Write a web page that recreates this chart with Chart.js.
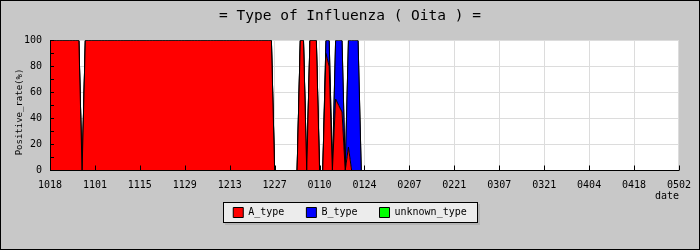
<!DOCTYPE html>
<html>
<head>
<meta charset="utf-8">
<script src="https://cdn.jsdelivr.net/npm/chart.js@4.4.1/dist/chart.umd.min.js"></script>
<style>
    html, body { margin: 0; padding: 0; background: #c8c8c8; }
</style>
</head>
<body>
<canvas id="chart" width="700" height="250"></canvas>
<script>
/* Type of Influenza (Oita): daily positive rate, stacked area */
const MONO = "'DejaVu Sans Mono', 'Liberation Mono', monospace";
const INK = '#000000';
const GRID = '#dcdcdc';
const PAGE_BG = '#c8c8c8';

const DAY_STEP = 14;
const LAST_DAY = 196;
const tickLabels = ['1018', '1101', '1115', '1129', '1213', '1227', '0110', '0124',
    '0207', '0221', '0307', '0321', '0404', '0418', '0502'];

// one value per day from 1018, one row per two weeks
const aType = [
    100, 100, 100, 100, 100, 100, 100, 100, 100, 100, 0, 100, 100, 100,
    100, 100, 100, 100, 100, 100, 100, 100, 100, 100, 100, 100, 100, 100,
    100, 100, 100, 100, 100, 100, 100, 100, 100, 100, 100, 100, 100, 100,
    100, 100, 100, 100, 100, 100, 100, 100, 100, 100, 100, 100, 100, 100,
    100, 100, 100, 100, 100, 100, 100, 100, 100, 100, 100, 100, 100, 100,
    0, 0, 0, 0, 0, 0, 0, 0, 100, 100, 0, 100, 100, 100,
    0, 0, 90, 80, 0, 55, 50, 45, 0, 18, 0, 0, 0, 0,
];
const bType = [
    0, 0, 0, 0, 0, 0, 0, 0, 0, 0, 0, 0, 0, 0,
    0, 0, 0, 0, 0, 0, 0, 0, 0, 0, 0, 0, 0, 0,
    0, 0, 0, 0, 0, 0, 0, 0, 0, 0, 0, 0, 0, 0,
    0, 0, 0, 0, 0, 0, 0, 0, 0, 0, 0, 0, 0, 0,
    0, 0, 0, 0, 0, 0, 0, 0, 0, 0, 0, 0, 0, 0,
    0, 0, 0, 0, 0, 0, 0, 0, 0, 0, 0, 0, 0, 0,
    0, 0, 10, 20, 0, 45, 50, 55, 0, 82, 100, 100, 100, 0,
];
const unknownType = [
    0, 0, 0, 0, 0, 0, 0, 0, 0, 0, 0, 0, 0, 0,
    0, 0, 0, 0, 0, 0, 0, 0, 0, 0, 0, 0, 0, 0,
    0, 0, 0, 0, 0, 0, 0, 0, 0, 0, 0, 0, 0, 0,
    0, 0, 0, 0, 0, 0, 0, 0, 0, 0, 0, 0, 0, 0,
    0, 0, 0, 0, 0, 0, 0, 0, 0, 0, 0, 0, 0, 0,
    0, 0, 0, 0, 0, 0, 0, 0, 0, 0, 0, 0, 0, 0,
    0, 0, 0, 0, 0, 0, 0, 0, 0, 0, 0, 0, 0, 0,
];

function toPoints(values) {
    return values.map((v, i) => ({ x: i, y: v }));
}

function areaSet(label, values, color, fill) {
    return {
        label,
        data: toPoints(values),
        backgroundColor: color,
        borderColor: INK,
        borderWidth: 1,
        fill,
        pointRadius: 0,
        tension: 0,
    };
}

// gray page, white plot, framed legend
const framePlugin = {
    id: 'frame',
    afterLayout(chart) {
        // pull the legend up under the tick labels
        const legend = chart.legend;
        if (!legend) return;
        const shift = legend.top - (chart.chartArea.bottom + 15);
        legend.top -= shift;
        legend.bottom -= shift;
    },
    beforeDraw(chart) {
        const { ctx, chartArea: a, legend } = chart;
        ctx.save();
        ctx.fillStyle = PAGE_BG;
        ctx.fillRect(0, 0, chart.width, chart.height);
        ctx.fillStyle = '#ffffff';
        const top = Math.floor(a.top);
        ctx.fillRect(a.left, top, a.right - a.left, Math.ceil(a.bottom) - top);

        const boxes = legend && legend.legendHitBoxes;
        if (boxes && boxes.length) {
            const first = boxes[0];
            const last = boxes[boxes.length - 1];
            const x0 = Math.round(first.left - 10);
            const x1 = Math.round(last.left + last.width + 11);
            const cy = first.top + first.height / 2;
            const y0 = Math.round(cy - 10.5);
            const y1 = Math.round(cy + 10.5);
            ctx.fillStyle = '#b4b4b4';
            ctx.fillRect(x0 + 2, y0 + 2, x1 - x0, y1 - y0);
            ctx.fillStyle = '#ececec';
            ctx.fillRect(x0, y0, x1 - x0, y1 - y0);
            ctx.strokeStyle = INK;
            ctx.lineWidth = 1;
            ctx.strokeRect(x0 + 0.5, y0 + 0.5, x1 - x0 - 1, y1 - y0 - 1);
        }
        ctx.restore();
    },
    afterDatasetsDraw(chart) {
        const { ctx, chartArea: a, scales: { x, y } } = chart;
        ctx.save();
        ctx.strokeStyle = INK;
        ctx.lineWidth = 1;
        ctx.beginPath();
        const axisY = Math.floor(a.bottom) + 0.5;
        ctx.moveTo(a.left + 0.5, a.top);
        ctx.lineTo(a.left + 0.5, axisY);
        ctx.lineTo(a.right, axisY);
        for (let v = 0; v <= 100; v += 10) {
            const py = Math.floor(y.getPixelForValue(v)) + 0.5;
            ctx.moveTo(a.left, py);
            ctx.lineTo(a.left + 4, py);
        }
        x.ticks.forEach((t) => {
            const px = Math.round(x.getPixelForValue(t.value)) + 0.5;
            ctx.moveTo(px, axisY);
            ctx.lineTo(px, axisY - 5);
        });
        ctx.stroke();
        ctx.restore();
    },
    afterDraw(chart) {
        const { ctx, chartArea: a } = chart;
        ctx.save();
        ctx.fillStyle = INK;
        ctx.font = `10px ${MONO}`;
        ctx.textAlign = 'right';
        ctx.textBaseline = 'middle';
        ctx.fillText('date', a.right, 196);

        ctx.translate(19.5, 112);
        ctx.rotate(-Math.PI / 2);
        ctx.font = `9px ${MONO}`;
        ctx.textAlign = 'center';
        ctx.fillText('Positive_rate(%)', 0, 0);
        ctx.restore();

        ctx.save();
        ctx.strokeStyle = INK;
        ctx.lineWidth = 1;
        ctx.strokeRect(0.5, 0.5, chart.width - 1, chart.height - 1);
        ctx.restore();
    },
};

new Chart(document.getElementById('chart'), {
    type: 'line',
    data: {
        datasets: [
            areaSet('A_type', aType, '#ff0000', 'origin'),
            areaSet('B_type', bType, '#0000ff', '-1'),
            areaSet('unknown_type', unknownType, '#00ff00', '-1'),
        ],
    },
    options: {
        responsive: false,
        animation: false,
        devicePixelRatio: 1,
        events: [],
        layout: { padding: { left: 20, right: 20, top: 0, bottom: 7.5 } },
        plugins: {
            title: {
                display: true,
                text: '= Type of Influenza ( Oita ) =',
                color: INK,
                font: { family: MONO, size: 14.5, weight: 'normal' },
                padding: { top: 7.3, bottom: 15.8 },
            },
            legend: {
                position: 'bottom',
                labels: {
                    color: INK,
                    boxWidth: 10,
                    boxHeight: 10,
                    padding: 22,
                    font: { family: MONO, size: 10 },
                },
            },
            tooltip: { enabled: false },
        },
        scales: {
            x: {
                type: 'linear',
                min: 0,
                max: LAST_DAY,
                afterFit: (s) => { s.height = 30; },
                border: { color: INK, width: 1 },
                grid: { color: GRID, drawTicks: false },
                ticks: {
                    stepSize: DAY_STEP,
                    maxTicksLimit: 30,
                    autoSkip: false,
                    maxRotation: 0,
                    padding: 9,
                    color: INK,
                    font: { family: MONO, size: 10 },
                    callback: (v) => tickLabels[Math.round(v / DAY_STEP)],
                },
            },
            y: {
                stacked: true,
                min: 0,
                max: 100,
                afterFit: (s) => { s.width = 30; },
                border: { color: INK, width: 1 },
                grid: { color: GRID, drawTicks: false },
                ticks: {
                    stepSize: 20,
                    padding: 8,
                    color: INK,
                    font: { family: MONO, size: 10 },
                },
            },
        },
    },
    plugins: [framePlugin],
});
</script>
</body>
</html>
